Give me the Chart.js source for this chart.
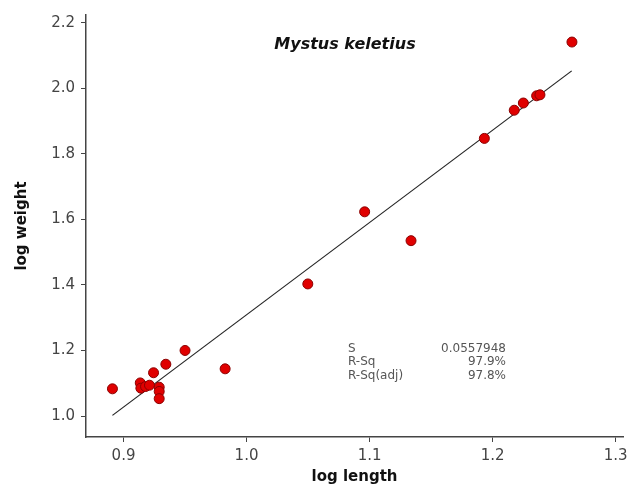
<!DOCTYPE html>
<html>
<head>
<meta charset="utf-8">
<script src="https://cdn.jsdelivr.net/npm/chart.js@4/dist/chart.umd.min.js"></script>
<style>
  body { margin: 0; background: #fff; }
  #wrap { width: 643px; height: 488px; }
</style>
</head>
<body>
<div id="wrap"><canvas id="myChart" width="643" height="488"></canvas></div>
<script>
// log length / log weight
var logLength = [0.891, 0.9136, 0.9141, 0.9179, 0.9211, 0.9244, 0.929, 0.929, 0.929, 0.9344, 0.950,
                 0.9826, 1.0498, 1.096, 1.1337, 1.1933, 1.2176, 1.225, 1.2358, 1.2385, 1.2645];
var logWeight = [1.083, 1.101, 1.085, 1.090, 1.094, 1.132, 1.088, 1.075, 1.053, 1.158, 1.200,
                 1.144, 1.403, 1.623, 1.535, 1.847, 1.933, 1.955, 1.977, 1.980, 2.141];

// fitted line, ends as drawn
var fitLength = [0.891, 1.2643];
var fitWeight = [1.002, 2.053];

var xTicks = [0.9, 1.0, 1.1, 1.2, 1.3];
var yTicks = [1.0, 1.2, 1.4, 1.6, 1.8, 2.0, 2.2];

var chartTitle = 'Mystus keletius';
var statNames = ['S', 'R-Sq', 'R-Sq(adj)'];
var statValues = ['0.0557948', '97.9%', '97.8%'];

var points = logLength.map(function (v, i) { return { x: v, y: logWeight[i] }; });
var fitLine = fitLength.map(function (v, i) { return { x: v, y: fitWeight[i] }; });

var textPlugin = {
    id: 'texts',
    afterDraw: function (chart) {
        var ctx = chart.ctx;
        ctx.save();
        ctx.fillStyle = '#111';
        ctx.font = 'italic bold 16px "DejaVu Sans"';
        ctx.textAlign = 'center';
        ctx.textBaseline = 'middle';
        ctx.fillText(chartTitle, 345, 45);

        ctx.font = '12px "DejaVu Sans"';
        ctx.fillStyle = '#555';
        for (var i = 0; i < statNames.length; i++) {
            var y = 349 + i * 13.3;
            ctx.textAlign = 'left';
            ctx.fillText(statNames[i], 348, y);
            ctx.textAlign = 'right';
            ctx.fillText(statValues[i], 506, y);
        }
        ctx.restore();
    }
};

function axis(min, max, ticks, title, isY) {
    return {
        type: 'linear',
        min: min,
        max: max,
        afterBuildTicks: function (scale) {
            scale.ticks = ticks.map(function (v) { return { value: v }; });
        },
        afterFit: function (scale) {
            if (isY) scale.width = 86; else scale.height = 51;
        },
        border: { display: true, color: '#444', width: 1.5 },
        grid: { display: true, drawOnChartArea: false, drawTicks: true, tickLength: 5, color: '#444', tickWidth: 1 },
        ticks: {
            padding: isY ? 6 : 5,
            color: '#444',
            font: { family: 'DejaVu Sans', size: 15 },
            callback: function (v) { return Number(v).toFixed(1); }
        },
        title: {
            display: true,
            text: title,
            color: '#111',
            font: { family: 'DejaVu Sans', size: 15, weight: 'bold' },
            padding: isY ? { top: 13, bottom: 0 } : { top: 0, bottom: 2 }
        }
    };
}

var ctx = document.getElementById('myChart').getContext('2d');
var myChart = new Chart(ctx, {
    type: 'scatter',
    data: {
        datasets: [{
            label: 'data',
            data: points,
            backgroundColor: '#e00000',
            borderColor: '#8a0000',
            borderWidth: 1,
            pointRadius: 5
        }, {
            label: 'fit',
            type: 'line',
            data: fitLine,
            borderColor: '#222',
            borderWidth: 1.2,
            pointRadius: 0,
            fill: false
        }]
    },
    options: {
        responsive: false,
        animation: false,
        layout: { padding: { left: 0, top: 14, right: 20, bottom: 0 } },
        plugins: { legend: { display: false }, tooltip: { enabled: false } },
        scales: {
            x: axis(0.8695, 1.306, xTicks, 'log length', false),
            y: axis(0.936, 2.2235, yTicks, 'log weight', true)
        }
    },
    plugins: [textPlugin]
});
</script>
</body>
</html>
